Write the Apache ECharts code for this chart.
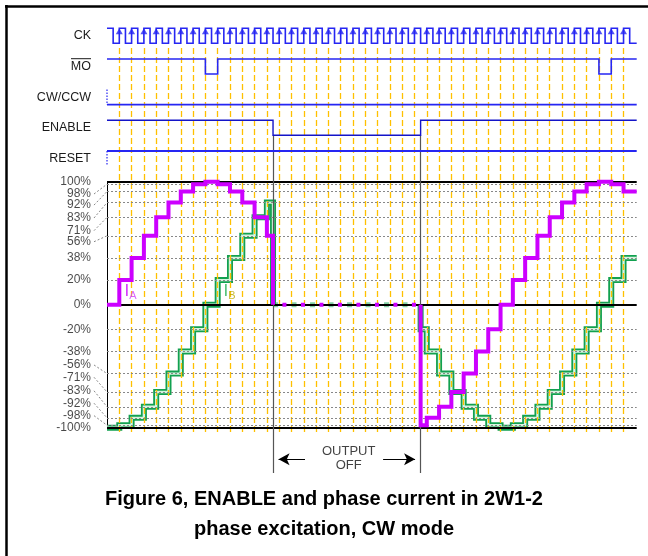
<!DOCTYPE html>
<html><head><meta charset="utf-8">
<script src="https://cdn.jsdelivr.net/npm/echarts@6/dist/echarts.min.js"></script>
<style>html,body{margin:0;padding:0;background:#fff}#c{width:648px;height:556px}</style>
</head><body><div id="c"></div>
<script>
// ---------------- data ----------------
const signalNames = ['CK', 'MO', 'CW/CCW', 'ENABLE', 'RESET'];
const ckRise = [0,1,2,3,4,5,6,7,8,9,10,11,12,13,14,15,16,17,18,19,20,21,22,23,24,25,26,27,28,29,30,31,32,33,34,35,36,37,38,39,40,41];
const moLowPulses = [[7, 8], [39, 40]];
const enableOff = 12.5;
const enableOn = 24.5;
const tStart = -1;
const tEnd = 42.07;

const stepsBefore = [-1,0,1,2,3,4,5,6,7,8,9,10,11,12];
const iaBefore = [0,20,38,56,71,83,92,98,100,98,92,83,71,56];
const ibBefore = [-100,-98,-92,-83,-71,-56,-38,-20,0,20,38,56,71,83];
const stepsAfter = [24.5,25,26,27,28,29,30,31,32,33,34,35,36,37,38,39,40,41];
const iaAfter = [-98,-92,-83,-71,-56,-38,-20,0,20,38,56,71,83,92,98,100,98,92];
const ibAfter = [-20,-38,-56,-71,-83,-92,-98,-100,-98,-92,-83,-71,-56,-38,-20,0,20,38];

const gridValues = [98,92,83,71,56,38,20,-20,-38,-56,-71,-83,-92,-98];
const boldValues = [100,0,-100];
const tickValues = [100,98,92,83,71,56,38,20,0,-20,-38,-56,-71,-83,-92,-98,-100];
const tickLabelPos = [100,90,81,70.5,60.2,51.2,38,20,0,-20,-38,-49,-59,-70,-80.1,-90.2,-100];
const tickLabels = ['100%','98%','92%','83%','71%','56%','38%','20%','0%','-20%','-38%','-56%','-71%','-83%','-92%','-98%','-100%'];

// ---------------- build ----------------
const FONT = "'Liberation Sans', Arial, sans-serif";
const AMP = 0.489;
const sigY = (i, lvl) => (4 - i) + (lvl - 0.5) * AMP;
const BLUE = '#2626f2';

function sigSeries(i, pts, ls) {
  return {type:'line', xAxisIndex:0, yAxisIndex:0, step:'end', symbol:'none', clip:false, silent:true,
    data: pts.map(p => [p[0], sigY(i, p[1])]), lineStyle: Object.assign({color:BLUE, width:1.6, cap:'butt', join:'miter'}, ls), z:6};
}
const ckPts = [[tStart,1]];
ckRise.forEach(k => { ckPts.push([k - 0.5, 0]); ckPts.push([k, 1]); });
ckPts.push([ckRise[ckRise.length-1] + 0.5, 0]); ckPts.push([tEnd, 0]);
const moPts = [[tStart,1]];
moLowPulses.forEach(p => { moPts.push([p[0], 0]); moPts.push([p[1], 1]); });
moPts.push([tEnd, 1]);
const cwPts = [[tStart,0],[tEnd,0]];
const enPts = [[tStart,1],[enableOff,0],[enableOn,1],[tEnd,1]];
const rsPts = [[tStart,1],[tEnd,1]];
const dontCare = [[tStart,1],[tStart,0]];

function curSeries(pts, ls, z, extra) {
  return Object.assign({type:'line', xAxisIndex:1, yAxisIndex:1, step:'end', symbol:'none', clip:false, silent:true,
    data: pts, lineStyle: Object.assign({cap:'butt', join:'miter'}, ls), z:z}, extra || {});
}
const iaOn1 = stepsBefore.map((t,j) => [t, iaBefore[j]]).concat([[enableOff, 0]]);
const ibOn1 = stepsBefore.map((t,j) => [t, ibBefore[j]]).concat([[enableOff, 0]]);
const iaOn2 = [[enableOn,0]].concat(stepsAfter.map((t,j) => [t, iaAfter[j]]), [[tEnd, iaAfter[iaAfter.length-1]]]);
const ibOn2 = [[enableOn,0]].concat(stepsAfter.map((t,j) => [t, ibAfter[j]]), [[tEnd, ibAfter[ibAfter.length-1]]]);
const offPts = [[enableOff,0],[enableOn,0]];

const MAG = '#cc00ff';
const GRN = '#12a150';
const GRN_IN = '#d6f4df';

const leaders = [];
tickValues.forEach((v,i) => { if (tickLabelPos[i] !== v) leaders.push([{coord:[0, tickLabelPos[i]]},{coord:[1, v]}]); });

const xBase = {type:'value', min:tStart, max:tEnd, show:false, splitLine:{show:false}};
const yHidden = {type:'value', show:false, splitLine:{show:false}};

const option = {
  animation: false,
  backgroundColor: '#fff',
  textStyle: {fontFamily: FONT},
  title: [
    {text:'Figure 6, ENABLE and phase current in 2W1-2', left:'center', top:484,
     textStyle:{fontFamily:FONT, fontSize:20, fontWeight:'bold', color:'#000'}},
    {text:'phase excitation, CW mode', left:'center', top:514,
     textStyle:{fontFamily:FONT, fontSize:20, fontWeight:'bold', color:'#000'}}
  ],
  grid: [
    {left:107, right:11.3, top:5.1, height:184.05},   // 0 signals
    {left:107, right:11.3, top:181.7, height:246},    // 1 currents
    {left:107, right:11.3, top:45, height:387},       // 2 clock dashed lines
    {left:107, right:11.3, top:135, height:338},      // 3 enable markers
    {left:94, width:13, top:181.7, height:246}        // 4 tick labels and leaders
  ],
  xAxis: [
    Object.assign({gridIndex:0}, xBase),
    Object.assign({gridIndex:1}, xBase),
    Object.assign({gridIndex:2}, xBase),
    Object.assign({gridIndex:3}, xBase),
    {gridIndex:4, type:'value', min:0, max:1, show:false, splitLine:{show:false}}
  ],
  yAxis: [
    {gridIndex:0, type:'value', min:-1, max:5, interval:1,
     axisLine:{show:false}, axisTick:{show:false}, splitLine:{show:false},
     axisLabel:{margin:16, fontFamily:FONT, fontSize:12.5, color:'#1a1a1a',
       formatter: v => signalNames[4 - v] || ''}},
    {gridIndex:1, type:'value', min:-100, max:100, show:true,
     axisLine:{show:true, onZero:false, lineStyle:{color:'#000', width:1}}, axisTick:{show:false}, axisLabel:{show:false}, splitLine:{show:false}},
    Object.assign({gridIndex:2, min:0, max:1}, yHidden),
    Object.assign({gridIndex:3, min:0, max:338, inverse:true}, yHidden),
    Object.assign({gridIndex:4, min:-100, max:100}, yHidden)
  ],
  graphic: [
    {type:'line', shape:{x1:5, y1:6.5, x2:648, y2:6.5}, style:{stroke:'#000', lineWidth:2.5}, z:100},
    {type:'line', shape:{x1:6.5, y1:5, x2:6.5, y2:556}, style:{stroke:'#000', lineWidth:2.5}, z:100},
    {type:'line', shape:{x1:71, y1:58.7, x2:91, y2:58.7}, style:{stroke:'#1a1a1a', lineWidth:1}, z:100}
  ],
  series: [
    // clock dashed lines
    {type:'line', xAxisIndex:2, yAxisIndex:2, data:[], symbol:'none', silent:true, z:0,
     markLine:{silent:true, symbol:'none', label:{show:false}, animation:false,
       lineStyle:{color:'#ffc000', type:[6,3], width:1.3},
       data: ckRise.map(k => ({xAxis:k}))}},
    // grid lines currents
    {type:'line', xAxisIndex:1, yAxisIndex:1, data:[], symbol:'none', silent:true, z:1,
     markLine:{silent:true, symbol:'none', label:{show:false}, animation:false,
       lineStyle:{color:'#888', type:[2,2], width:1},
       data: gridValues.map(v => ({yAxis:v}))}},
    {type:'line', xAxisIndex:1, yAxisIndex:1, data:[], symbol:'none', silent:true, z:2,
     markLine:{silent:true, symbol:'none', label:{show:false}, animation:false,
       lineStyle:{color:'#000', type:'solid', width:2},
       data: boldValues.map(v => ({yAxis:v}))}},
    // enable markers
    {type:'line', xAxisIndex:3, yAxisIndex:3, data:[], symbol:'none', silent:true, z:3,
     markLine:{silent:true, symbol:'none', label:{show:false}, animation:false,
       lineStyle:{color:'#555', type:'solid', width:1.2},
       data: [{xAxis:enableOff},{xAxis:enableOn}]}},
    {type:'line', xAxisIndex:3, yAxisIndex:3, data:[], symbol:'none', silent:true, z:3,
     markLine:{silent:true, symbol:['arrow','none'], symbolSize:[9,11], label:{show:false}, animation:false,
       lineStyle:{color:'#000', type:'solid', width:1},
       data: [[{coord:[enableOff+0.45, 324.3]},{coord:[enableOff+2.6, 324.3]}]]}},
    {type:'line', xAxisIndex:3, yAxisIndex:3, data:[], symbol:'none', silent:true, z:3,
     markLine:{silent:true, symbol:['none','arrow'], symbolSize:[9,11], label:{show:false}, animation:false,
       lineStyle:{color:'#000', type:'solid', width:1},
       data: [[{coord:[enableOn-3.05, 324.3]},{coord:[enableOn-0.45, 324.3]}]]}},
    {type:'scatter', xAxisIndex:3, yAxisIndex:3, symbolSize:0, silent:true, z:3,
     data:[[ (enableOff+enableOn)/2 + 0.15, 323.4 ]],
     label:{show:true, position:'inside', formatter:'OUTPUT\nOFF', fontFamily:FONT, fontSize:13, lineHeight:14, color:'#111', align:'center'}},
    // signals
    sigSeries(0, ckPts, {}),
    {type:'scatter', xAxisIndex:0, yAxisIndex:0, silent:true, z:7, symbol:'triangle', symbolSize:[7,6], symbolOffset:[0,3],
     itemStyle:{color:BLUE}, data: ckRise.map(k => [k, sigY(0,1)])},
    sigSeries(1, moPts, {}),
    sigSeries(2, cwPts, {}),
    sigSeries(2, dontCare, {type:[1.5,1.5], width:1.2}),
    sigSeries(3, enPts, {color:'#1414c8', width:1.4}),
    sigSeries(4, rsPts, {width:2}),
    sigSeries(4, dontCare, {type:[1.5,1.5], width:1.2}),
    // currents: I_B
    curSeries(ibOn1, {color:GRN, width:6}, 4),
    curSeries(ibOn1, {color:GRN_IN, width:2.4}, 4),
    curSeries(ibOn2, {color:GRN, width:6}, 4),
    curSeries(ibOn2, {color:GRN_IN, width:2.4}, 4),
    curSeries(offPts, {color:'rgba(30,170,90,0.55)', width:5, type:[5,13.5], dashOffset:0}, 4, {step:false}),
    // currents: I_A
    curSeries(iaOn1, {color:MAG, width:4}, 5),
    curSeries(iaOn2, {color:MAG, width:4}, 5),
    curSeries(offPts, {color:MAG, width:4, type:[4,14.5], dashOffset:9.1}, 5, {step:false}),
    // I_A / I_B labels
    {type:'scatter', xAxisIndex:1, yAxisIndex:1, symbolSize:0, silent:true, z:6,
     data:[
       {value:[0.42, 10.7], label:{formatter:'{i|I}{a|A}'}},
       {value:[8.47, 10.7], label:{formatter:'{j|I}{b|B}'}}
     ],
     label:{show:true, position:'right', distance:0, fontFamily:FONT,
       rich:{
         i:{fontSize:17, color:MAG, fontFamily:FONT},
         a:{fontSize:11, color:'#d040ff', fontFamily:FONT, padding:[9,0,0,0]},
         j:{fontSize:17, color:'#20b050', fontFamily:FONT},
         b:{fontSize:11, color:'#b8a800', fontFamily:FONT, padding:[9,0,0,0]}
       }}},
    // tick labels and leaders
    {type:'scatter', xAxisIndex:4, yAxisIndex:4, symbolSize:0, silent:true, z:6, clip:false,
     data: tickLabelPos.map((p,i) => ({value:[0,p], label:{formatter:tickLabels[i]}})),
     label:{show:true, position:'left', distance:3, fontFamily:FONT, fontSize:12, color:'#1a1a1a'},
     markLine:{silent:true, symbol:'none', label:{show:false}, animation:false,
       lineStyle:{color:'#888', type:[2,2], width:1},
       data: leaders}}
  ]
};
const chart = echarts.init(document.getElementById('c'));
chart.setOption(option);
</script>
</body></html>
